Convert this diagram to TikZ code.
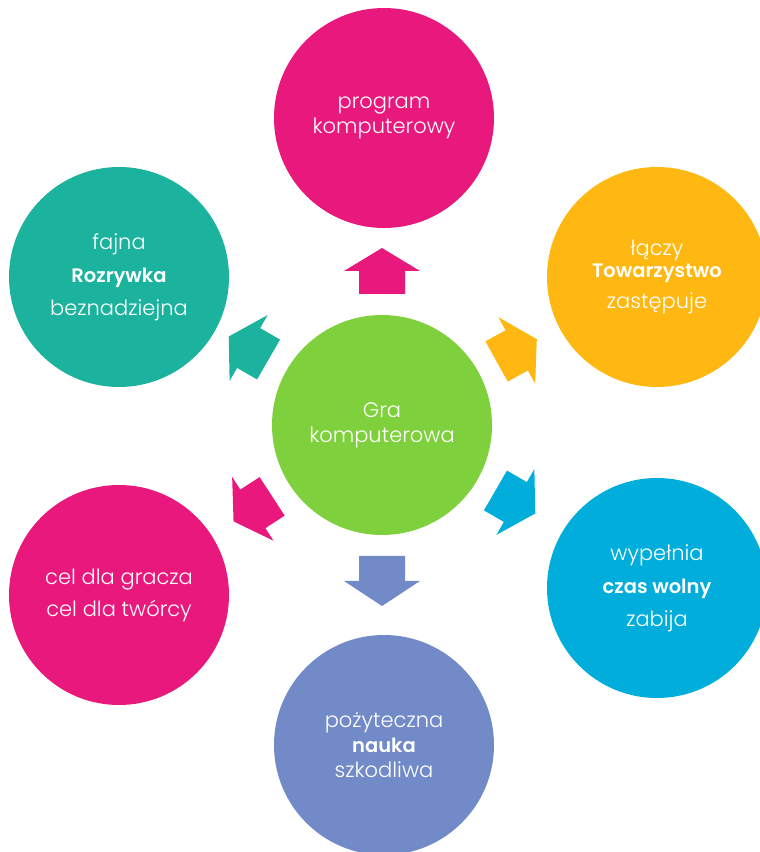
\documentclass[tikz,border=0pt]{standalone}
\usepackage{fontspec}
\setmainfont{Poppins}[UprightFont=* Light, BoldFont=* SemiBold]
\definecolor{cmag}{RGB}{233,24,124}
\definecolor{cteal}{RGB}{27,179,157}
\definecolor{cyel}{RGB}{254,184,17}
\definecolor{cblue}{RGB}{1,174,219}
\definecolor{cperi}{RGB}{114,139,200}
\definecolor{cgreen}{RGB}{126,209,60}
\newcommand{\bld}[1]{{\fontsize{19.5}{25}\selectfont\textbf{#1}}}
\tikzset{
  bubble/.style={circle, minimum size=220pt, inner sep=0pt, text=white, align=center, font={\fontsize{21}{25}\selectfont}},
  radarrow/.pic={\fill[pic actions] (131,-23) -- (154,-23) -- (154,-38) -- (177,0) -- (154,38) -- (154,23) -- (131,23) -- cycle;},
  longarrow/.pic={\fill[pic actions] (131,-23) -- (156,-23) -- (156,-38) -- (181,0) -- (156,38) -- (156,23) -- (131,23) -- cycle;}
}
\begin{document}
\begin{tikzpicture}[x=1pt,y=1pt]
\useasboundingbox (0,0) rectangle (760,852);
\clip (0,0) rectangle (760,852);
\fill[white] (0,0) rectangle (760,852);
\node[bubble, fill=cgreen] (center) at (382,427) {Gra\\komputerowa};
\node[bubble, fill=cmag] (top) at (384,734) {program\\komputerowy};
\node[bubble, fill=cyel] (ur) at (657,575) {łączy\\[-3pt]\bld{Towarzystwo}\\[6pt]zastępuje};
\node[bubble, fill=cblue] (lr) at (657,264) {wypełnia\\[8pt]\bld{czas wolny}\\[8pt]zabija};
\node[bubble, fill=cperi] (bottom) at (384,107) {pożyteczna\\\bld{nauka}\\szkodliwa};
\node[bubble, fill=cmag] (ll) at (119,257) {cel dla gracza\\[7pt]cel dla twórcy};
\node[bubble, fill=cteal] (ul) at (119,575) {fajna\\[8pt]\bld{Rozrywka}\\[8pt]beznadziejna};
\pic[rotate=90, fill=cmag] at (center) {radarrow};
\pic[rotate=29, fill=cyel] at (center) {radarrow};
\pic[rotate=-30, fill=cblue] at (center) {radarrow};
\pic[rotate=-90, fill=cperi] at (center) {longarrow};
\pic[rotate=213, fill=cmag] at (center) {radarrow};
\pic[rotate=150, fill=cteal] at (center) {radarrow};
\end{tikzpicture}
\end{document}
